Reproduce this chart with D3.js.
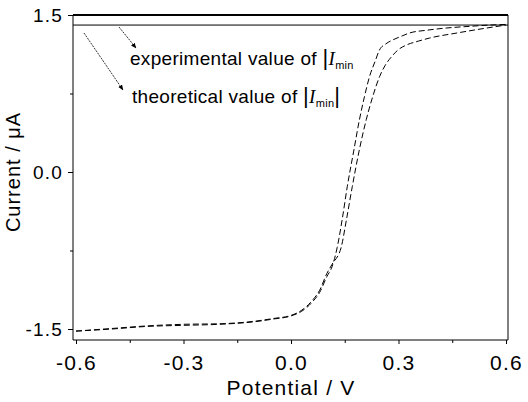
<!DOCTYPE html>
<html>
<head>
<meta charset="utf-8">
<script src="https://cdn.jsdelivr.net/npm/d3@7"></script>
<style>
  body { margin: 0; background: #fff; }
  text { font-family: "Liberation Sans", Arial, sans-serif; fill: #000; }
</style>
</head>
<body>
<script>
// curve data
var xA = [-0.6, -0.5, -0.4, -0.3, -0.2, -0.1, -0.05, 0.0, 0.03, 0.06, 0.08, 0.1, 0.115, 0.129, 0.143, 0.157, 0.175, 0.191, 0.205, 0.219, 0.235, 0.247, 0.265, 0.283, 0.31, 0.331, 0.38, 0.435, 0.5, 0.555, 0.6];
var yA = [-1.52, -1.50, -1.475, -1.465, -1.455, -1.43, -1.405, -1.375, -1.33, -1.24, -1.15, -1.0, -0.9, -0.72, -0.45, -0.14, 0.2, 0.5, 0.72, 0.91, 1.06, 1.166, 1.225, 1.26, 1.30, 1.328, 1.355, 1.376, 1.392, 1.404, 1.41];
var xB = [-0.6, -0.5, -0.4, -0.3, -0.2, -0.1, -0.05, 0.0, 0.03, 0.06, 0.08, 0.1, 0.115, 0.14, 0.155, 0.171, 0.19, 0.21, 0.228, 0.247, 0.263, 0.28, 0.3, 0.322, 0.355, 0.387, 0.463, 0.547, 0.6];
var yB = [-1.52, -1.495, -1.47, -1.455, -1.45, -1.425, -1.40, -1.37, -1.32, -1.225, -1.13, -0.97, -0.88, -0.72, -0.45, -0.14, 0.2, 0.5, 0.72, 0.91, 1.02, 1.099, 1.17, 1.213, 1.25, 1.28, 1.328, 1.376, 1.404];
var limitValue = 1.404;

var xMajor = [-0.6, -0.3, 0.0, 0.3, 0.6];
var xMinor = [-0.45, -0.15, 0.15, 0.45];
var yMajor = [1.5, 0.0, -1.5];
var yMinor = [0.75, -0.75];

var width = 528, height = 402;
var margin = {left: 73, right: 508, top: 15, bottom: 340};

var svg = d3.select("body").append("svg")
    .attr("width", width)
    .attr("height", height);

var xScale = d3.scaleLinear().domain([-0.6084, 0.6056]).range([margin.left, margin.right]);
var yScale = d3.scaleLinear().domain([-1.605, 1.5]).range([margin.bottom, margin.top]);

var fmt = function(d){ return d.toFixed(1); };

// axes
var xAxisG = svg.append("g").attr("transform", "translate(0," + margin.bottom + ")")
    .call(d3.axisBottom(xScale).tickValues(xMajor).tickFormat(fmt).tickSize(4).tickSizeOuter(0));
svg.append("g").attr("transform", "translate(0," + margin.bottom + ")")
    .call(d3.axisBottom(xScale).tickValues(xMinor).tickFormat("").tickSize(3).tickSizeOuter(0));
var yAxisG = svg.append("g").attr("transform", "translate(" + margin.left + ",0)")
    .call(d3.axisLeft(yScale).tickValues(yMajor).tickFormat(fmt).tickSize(5).tickPadding(5).tickSizeOuter(0));
svg.append("g").attr("transform", "translate(" + margin.left + ",0)")
    .call(d3.axisLeft(yScale).tickValues(yMinor).tickFormat("").tickSize(3).tickSizeOuter(0));

svg.selectAll(".domain").remove();
svg.selectAll(".tick line").attr("stroke", "#000");

xAxisG.selectAll("text")
    .attr("y", 30).attr("dy", null)
    .style("font-size", "21px").style("letter-spacing", "1.2px")
    .style("font-family", "'Liberation Sans', Arial, sans-serif");
yAxisG.selectAll("text")
    .style("font-size", "19px").style("letter-spacing", "1.2px")
    .style("font-family", "'Liberation Sans', Arial, sans-serif");

// frame
svg.append("line").attr("x1", margin.left).attr("x2", margin.left).attr("y1", margin.top).attr("y2", margin.bottom).attr("stroke", "#000");
svg.append("line").attr("x1", margin.left).attr("x2", margin.right).attr("y1", margin.bottom).attr("y2", margin.bottom).attr("stroke", "#000");
svg.append("line").attr("x1", margin.right).attr("x2", margin.right).attr("y1", margin.top).attr("y2", margin.bottom).attr("stroke", "#000");
svg.append("line").attr("x1", margin.left).attr("x2", margin.right).attr("y1", margin.top).attr("y2", margin.top).attr("stroke", "#000").attr("stroke-width", 2);

// limiting value line
svg.append("line")
    .attr("x1", margin.left).attr("x2", margin.right)
    .attr("y1", yScale(limitValue)).attr("y2", yScale(limitValue))
    .attr("stroke", "#000").attr("stroke-width", 1);

// curves
var line = d3.line()
    .x(function(d){ return xScale(d[0]); })
    .y(function(d){ return yScale(d[1]); })
    .curve(d3.curveMonotoneX);

[[xA, yA], [xB, yB]].forEach(function(s){
  var pts = s[0].map(function(x, i){ return [x, s[1][i]]; });
  svg.append("path")
    .datum(pts)
    .attr("d", line)
    .attr("fill", "none")
    .attr("stroke", "#000")
    .attr("stroke-width", 1)
    .attr("stroke-dasharray", "6,3");
});

// axis titles
svg.append("text")
    .attr("x", 291).attr("y", 395)
    .attr("text-anchor", "middle")
    .style("font-size", "21px").style("letter-spacing", "1.2px")
    .text("Potential / V");
svg.append("text")
    .attr("transform", "translate(20,172) rotate(-90)")
    .attr("text-anchor", "middle")
    .style("font-size", "20px").style("letter-spacing", "1px")
    .text("Current / \u03bcA");

// annotations
var defs = svg.append("defs");
defs.append("marker")
    .attr("id", "arrow")
    .attr("viewBox", "0 0 10 10")
    .attr("refX", 9).attr("refY", 5)
    .attr("markerWidth", 7).attr("markerHeight", 7)
    .attr("orient", "auto")
    .append("path").attr("d", "M0,1 L10,5 L0,9 Z").attr("fill", "#000");

svg.append("line").attr("x1", 119).attr("y1", 27).attr("x2", 136).attr("y2", 48)
    .attr("stroke", "#000").attr("stroke-width", 0.8).attr("stroke-dasharray", "2,1")
    .attr("marker-end", "url(#arrow)");
svg.append("line").attr("x1", 84).attr("y1", 33).attr("x2", 123).attr("y2", 90)
    .attr("stroke", "#000").attr("stroke-width", 0.8).attr("stroke-dasharray", "2,1")
    .attr("marker-end", "url(#arrow)");

function label(x, y, str, closing) {
  var t = svg.append("text").attr("x", x).attr("y", y)
      .style("font-size", "19px").style("letter-spacing", "0.3px");
  t.append("tspan").text(str);
  t.append("tspan").text("|").style("font-size", "22px");
  t.append("tspan").text("I").style("font-family", "'Liberation Serif', 'Times New Roman', serif").style("font-style", "italic");
  t.append("tspan").text("min").attr("dy", 4).style("font-size", "11px");
  if (closing) t.append("tspan").text("|").attr("dy", -4).style("font-size", "22px");
}
label(130, 65, "experimental value of ", false);
label(132, 103, "theoretical value of ", true);
</script>
</body>
</html>
